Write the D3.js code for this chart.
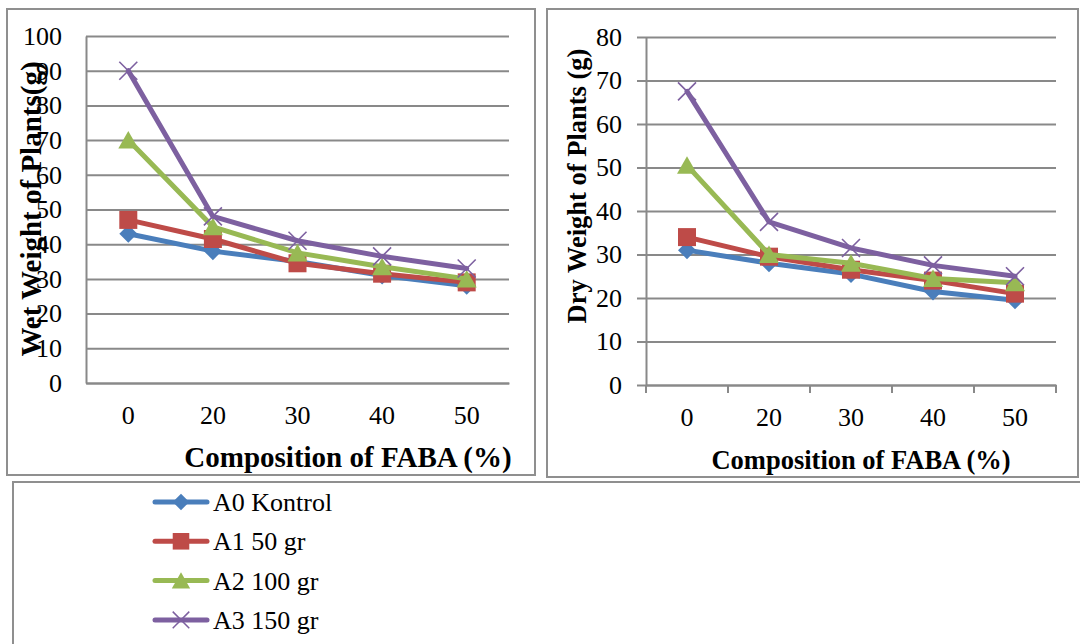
<!DOCTYPE html>
<html>
<head>
<meta charset="utf-8">
<script src="https://cdn.jsdelivr.net/npm/d3@7"></script>
<style>
  body { margin: 0; background: #fff; }
  svg { display: block; font-family: "Liberation Serif", "Times New Roman", serif; }
  .grid line { stroke: #898989; stroke-width: 2; }
  .axis path, .axis line { stroke: #898989; stroke-width: 2; }
  .frame { fill: none; stroke: #8f8f8f; stroke-width: 2; }
</style>
</head>
<body>
<svg id="chart" width="1080" height="644"></svg>
<script>
var categories = ["0", "20", "30", "40", "50"];
var seriesNames = ["A0 Kontrol", "A1 50 gr", "A2 100 gr", "A3 150 gr"];
var seriesColors = ["#4a7ebb", "#be4b48", "#98b954", "#7d60a0"];

// wet weight (g)
var wetA0 = [43, 38, 35, 31, 28];
var wetA1 = [47, 41.5, 34.5, 31.5, 29];
var wetA2 = [70, 45, 37.5, 33.5, 30];
var wetA3 = [90, 48, 41, 36.5, 33];
var wetTicks = [0, 10, 20, 30, 40, 50, 60, 70, 80, 90, 100];

// dry weight (g)
var dryA0 = [31, 28, 25.5, 21.5, 19.5];
var dryA1 = [34, 29.5, 26.5, 24, 21];
var dryA2 = [50.5, 30, 28, 24.5, 23.5];
var dryA3 = [67.5, 37.5, 31.5, 27.5, 25];
var dryTicks = [0, 10, 20, 30, 40, 50, 60, 70, 80];

var svg = d3.select("#chart");

// marker shapes, Excel style
function markerPath(i) {
  if (i === 0) return "M0,-9L9,0L0,9L-9,0Z";
  if (i === 1) return "M-9,-9H9V9H-9Z";
  if (i === 2) return "M0,-9L10,8.5L-10,8.5Z";
  return "M-9,-9L9,9M-9,9L9,-9";
}

function drawMarker(sel, i) {
  sel.append("path")
      .attr("d", markerPath(i))
      .attr("fill", i === 3 ? "none" : seriesColors[i])
      .attr("stroke", seriesColors[i])
      .attr("stroke-width", i === 3 ? 1.6 : 0);
}

function drawPanel(opt) {
  svg.append("rect").attr("class", "frame")
      .attr("x", opt.frame[0]).attr("y", opt.frame[1])
      .attr("width", opt.frame[2]).attr("height", opt.frame[3]);

  var x = d3.scaleBand()
      .domain(categories)
      .range([opt.left, opt.right]);

  var y = d3.scaleLinear()
      .domain([0, d3.max(opt.ticks)])
      .range([opt.bottom, opt.top]);

  var w = opt.right - opt.left;

  var g = svg.append("g");

  // gridlines
  g.append("g")
      .attr("class", "grid")
      .attr("transform", "translate(" + opt.left + ",0)")
      .call(d3.axisLeft(y).tickValues(opt.ticks).tickSize(-w).tickFormat(""))
      .call(function(s) { s.select(".domain").remove(); });

  // y axis with labels
  var yAxis = g.append("g")
      .attr("class", "axis")
      .attr("transform", "translate(" + opt.left + ",0)")
      .call(d3.axisLeft(y).tickValues(opt.ticks).tickSize(opt.tick).tickPadding(opt.yPad).tickSizeOuter(0));
  yAxis.selectAll("text")
      .style("font-size", "26px")
      .attr("fill", "#000");
  yAxis.attr("font-family", null).attr("font-size", null);

  // x axis line + labels
  var xAxis = g.append("g")
      .attr("class", "axis")
      .attr("transform", "translate(0," + opt.bottom + ")")
      .call(d3.axisBottom(x).tickSize(0).tickSizeOuter(0));
  xAxis.attr("font-family", null).attr("font-size", null);
  xAxis.selectAll("text")
      .attr("y", opt.xLabelOff)
      .attr("dy", "0.35em")
      .style("font-size", "26px")
      .attr("fill", "#000");

  if (opt.tick > 0) {
    var bounds = d3.range(categories.length + 1).map(function(i) { return opt.left + i * x.step(); });
    g.append("g").selectAll("line")
        .data(bounds)
      .enter().append("line")
        .attr("x1", function(d) { return d; })
        .attr("x2", function(d) { return d; })
        .attr("y1", opt.bottom)
        .attr("y2", opt.bottom + 8)
        .attr("stroke", "#898989")
        .attr("stroke-width", 2);
  }

  // series
  var line = d3.line()
      .x(function(d, i) { return x(categories[i]) + x.bandwidth() / 2; })
      .y(function(d) { return y(d); });

  opt.series.forEach(function(values, si) {
    g.append("path")
        .datum(values)
        .attr("fill", "none")
        .attr("stroke", seriesColors[si])
        .attr("stroke-width", 5)
        .attr("stroke-linejoin", "round")
        .attr("stroke-linecap", "round")
        .attr("d", line);

    g.append("g").selectAll("g")
        .data(values)
      .enter().append("g")
        .attr("transform", function(d, i) {
          return "translate(" + (x(categories[i]) + x.bandwidth() / 2) + "," + y(d) + ")";
        })
        .each(function() { drawMarker(d3.select(this), si); });
  });

  // titles
  g.append("text")
      .attr("x", opt.xTitle[0])
      .attr("y", opt.xTitle[1])
      .attr("text-anchor", "middle")
      .style("font-size", opt.xTitle[2] + "px")
      .style("font-weight", "bold")
      .text("Composition of FABA (%)");

  g.append("text")
      .attr("transform", "translate(" + opt.yTitle[0] + "," + opt.yTitle[1] + ") rotate(-90)")
      .attr("text-anchor", "middle")
      .style("font-size", opt.yTitle[2] + "px")
      .style("font-weight", "bold")
      .text(opt.yLabel);
}

drawPanel({
  frame: [7, 9, 528, 466],
  left: 86, right: 509, top: 36, bottom: 383,
  ticks: wetTicks, tick: 0, yPad: 24, xLabelOff: 32,
  series: [wetA0, wetA1, wetA2, wetA3],
  xTitle: [348, 467, 29],
  yTitle: [41, 209, 29],
  yLabel: "Wet Weight of Plants(g)"
});

drawPanel({
  frame: [547, 9, 531, 468],
  left: 646, right: 1056, top: 37, bottom: 385,
  ticks: dryTicks, tick: 9, yPad: 15, xLabelOff: 32,
  series: [dryA0, dryA1, dryA2, dryA3],
  xTitle: [861, 469, 26.5],
  yTitle: [586, 186, 26.5],
  yLabel: "Dry Weight of Plants (g)"
});

// legend
svg.append("rect").attr("class", "frame")
    .attr("x", 13).attr("y", 482)
    .attr("width", 1100).attr("height", 220);

var legend = svg.append("g").selectAll("g")
    .data(seriesNames)
  .enter().append("g")
    .attr("transform", function(d, i) { return "translate(181," + (502 + i * 39.3) + ")"; });

legend.append("line")
    .attr("x1", -26).attr("x2", 26)
    .attr("stroke", function(d, i) { return seriesColors[i]; })
    .attr("stroke-width", 5)
    .attr("stroke-linecap", "round");

legend.each(function(d, i) {
  d3.select(this).append("path")
      .attr("d", markerPath(i))
      .attr("transform", "scale(0.92)")
      .attr("fill", i === 3 ? "none" : seriesColors[i])
      .attr("stroke", seriesColors[i])
      .attr("stroke-width", i === 3 ? 1.6 : 0);
});

legend.append("text")
    .attr("x", 32)
    .attr("dy", "0.35em")
    .style("font-size", "26px")
    .text(function(d) { return d; });
</script>
</body>
</html>
